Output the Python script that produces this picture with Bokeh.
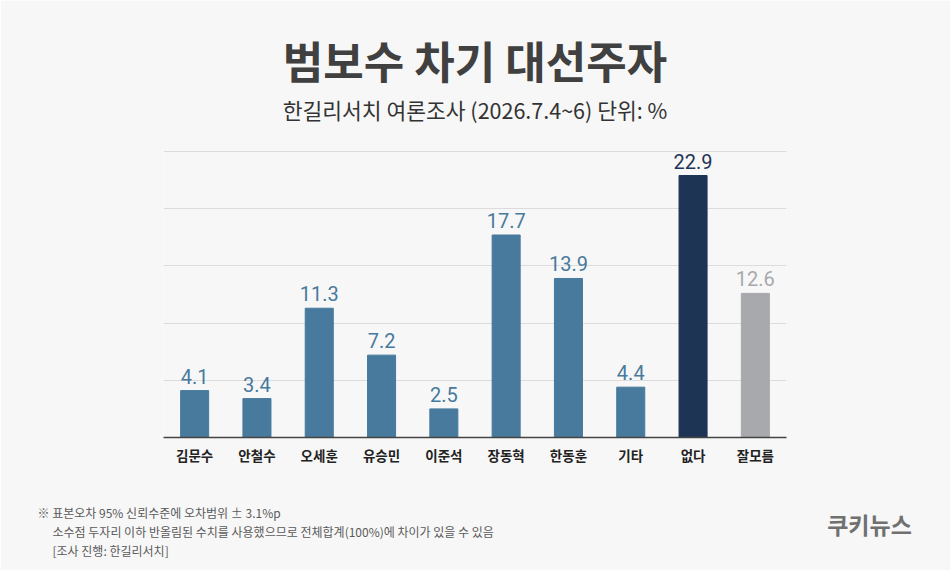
from bokeh.plotting import figure
from bokeh.models import ColumnDataSource, Range1d, FactorRange, SingleIntervalTicker, Label, Title
from bokeh.core.properties import value
from bokeh.embed import file_html
from bokeh.resources import INLINE

categories = ["김문수", "안철수", "오세훈", "유승민", "이준석", "장동혁", "한동훈", "기타", "없다", "잘모름"]
values = [4.1, 3.4, 11.3, 7.2, 2.5, 17.7, 13.9, 4.4, 22.9, 12.6]
value_labels = ["4.1", "3.4", "11.3", "7.2", "2.5", "17.7", "13.9", "4.4", "22.9", "12.6"]

STEEL = "#477a9c"
NAVY = "#1e3455"
GRAY = "#a8a9ad"
colors = [STEEL] * 8 + [NAVY, GRAY]

title_text = "범보수 차기 대선주자"
subtitle_text = "한길리서치 여론조사 (2026.7.4~6) 단위: %"
notes = [
    "※ 표본오차 95% 신뢰수준에 오차범위 ± 3.1%p",
    "소수점 두자리 이하 반올림된 수치를 사용했으므로 전체합계(100%)에 차이가 있을 수 있음",
    "[조사 진행: 한길리서치]",
]
logo_text = "쿠키뉴스"

W, H = 950, 570
FL, FR, FT, FB = 163, 786, 150, 437  # frame edges on canvas
Y_MAX = 25
Y_TOP = Y_MAX * (FB - FT) / (FB - FT - 1)  # 1px headroom so the top gridline shows

BG = "#f7f7f7"
KR = "Noto Sans CJK KR"
NUM = "Roboto"
NOTE_C = "#5a5a5a"

src = ColumnDataSource(dict(cat=categories, val=values, lab=value_labels, color=colors))

p = figure(width=W, height=H, x_range=FactorRange(*categories, range_padding=0),
           y_range=Range1d(0, Y_TOP), output_backend="svg", toolbar_location=None,
           min_border_left=FL, min_border_right=W - FR, min_border_top=FT,
           min_border_bottom=H - FB)
p.background_fill_color = BG
p.border_fill_color = BG
p.outline_line_color = None

p.vbar(x="cat", top="val", width=0.45, color="color", source=src)
p.text(x="cat", y="val", text="lab", text_color="color", source=src,
       text_font=value(NUM), text_font_size="20px", text_align="center",
       text_baseline="bottom", y_offset=-7)

p.yaxis.visible = False
p.yaxis.ticker = SingleIntervalTicker(interval=5)
p.ygrid.ticker = SingleIntervalTicker(interval=5)
p.ygrid.grid_line_color = "#dcdcdc"
p.ygrid.grid_line_width = 1
p.xgrid.grid_line_color = None

xa = p.xaxis[0]
xa.axis_line_color = "#444444"
xa.axis_line_width = 1.5
xa.major_tick_line_color = None
xa.minor_tick_line_color = None
xa.major_tick_out = 0
xa.major_tick_in = 0
xa.axis_label_standoff = 0
xa.major_label_text_font = KR
xa.major_label_text_font_size = "13.5px"
xa.major_label_text_font_style = "bold"
xa.major_label_text_color = "#222222"
xa.major_label_standoff = 7

# Titles above the frame (outermost: p.title)
p.title.text = title_text
p.title.align = "center"
p.title.text_font = KR
p.title.text_font_size = "44px"
p.title.text_font_style = "bold"
p.title.text_color = "#404040"
p.title.standoff = 0

# spacer between frame and subtitle
p.add_layout(Title(text=" ", text_font_size="1px", standoff=23), "above")
p.add_layout(Title(text=subtitle_text, align="center", text_font=KR, text_font_size="21.5px",
                   text_font_style="normal", text_color="#333333", standoff=0), "above")

# logo label in its own panel right under the axis
p.add_layout(Label(x=869 - FL, y=-22, x_units="screen", y_units="screen",
                   text=logo_text, text_font=KR, text_font_size="23px",
                   text_color="#707070", text_font_style="bold",
                   text_align="center", text_baseline="middle"), "below")

# footnotes below
for txt, x0 in zip(notes, [37, 52, 52]):
    p.add_layout(Title(text=txt, align="left", offset=x0 - FL, text_font=KR,
                       text_font_size="12px", text_font_style="normal",
                       text_color=NOTE_C, standoff=0), "below")

open("out.html", "w").write(file_html(p, INLINE))
